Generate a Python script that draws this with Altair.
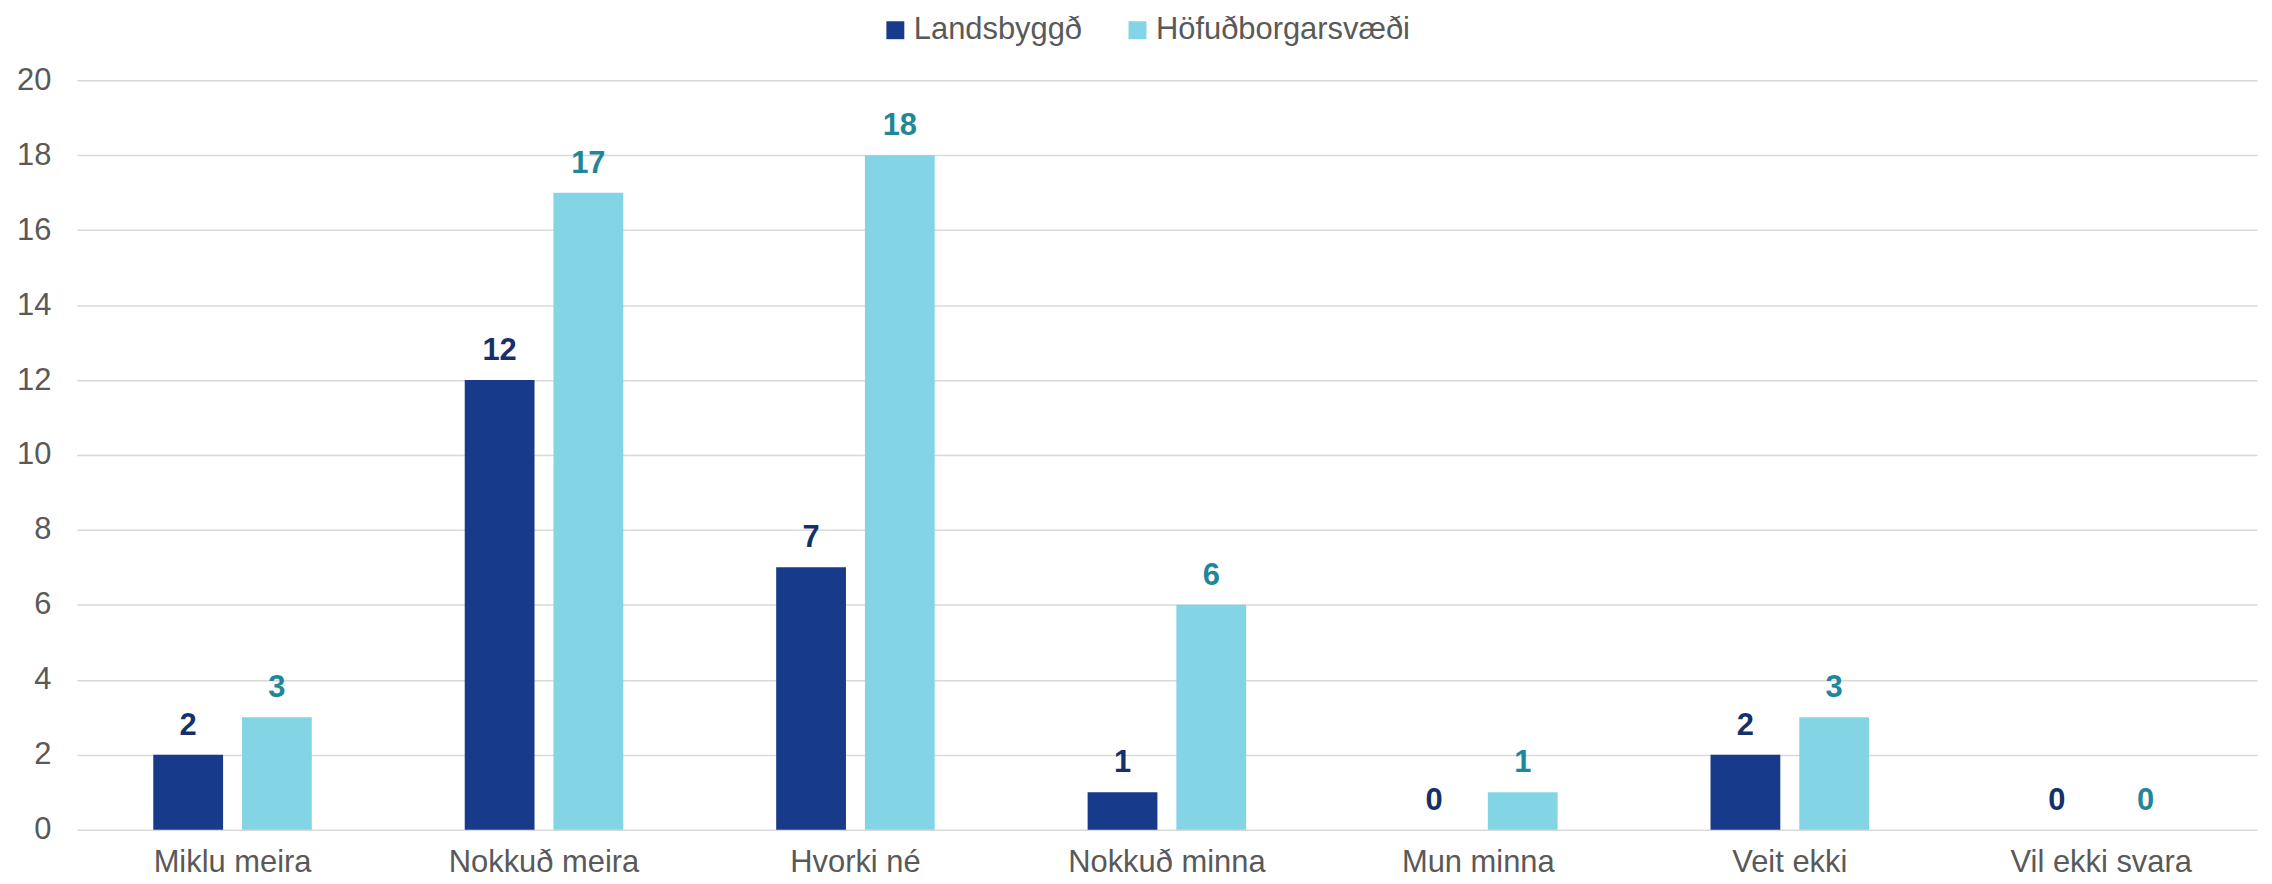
import altair as alt
import pandas as pd

categories = ["Miklu meira", "Nokkuð meira", "Hvorki né", "Nokkuð minna", "Mun minna", "Veit ekki", "Vil ekki svara"]
series = ["Landsbyggð", "Höfuðborgarsvæði"]
landsbyggd = [2, 12, 7, 1, 0, 2, 0]
hofudborg = [3, 17, 18, 6, 1, 3, 0]
y_ticks = [0, 2, 4, 6, 8, 10, 12, 14, 16, 18, 20]

bar_colors = ["#173a8a", "#83d5e6"]
label_colors = ["#16306c", "#1f8798"]

rows = []
for c, a, b in zip(categories, landsbyggd, hofudborg):
    rows.append({"cat": c, "series": series[0], "value": a})
    rows.append({"cat": c, "series": series[1], "value": b})
df = pd.DataFrame(rows)

FONT = "Liberation Sans"
GRAY = "#595959"

x = alt.X("cat:N", sort=categories, title=None,
          scale=alt.Scale(paddingInner=0.491, paddingOuter=0.2457),
          axis=alt.Axis(labelAngle=0, labelFontSize=31, labelColor=GRAY, labelFont=FONT,
                        labelPadding=18, labelLimit=0, domain=False, ticks=False, grid=False))
xoff = alt.XOffset("series:N", sort=series, scale=alt.Scale(paddingInner=0.2135))
y = alt.Y("value:Q", title=None,
          scale=alt.Scale(domain=[0, 20], nice=False),
          axis=alt.Axis(values=y_ticks, labelFontSize=31, labelColor=GRAY, labelFont=FONT,
                        labelPadding=26, domain=False, ticks=False, grid=True,
                        gridColor="#d9d9d9", gridWidth=1.5))

bars = alt.Chart(df).mark_bar().encode(
    x=x, xOffset=xoff, y=y,
    color=alt.Color("series:N", sort=series,
                    scale=alt.Scale(domain=series, range=bar_colors),
                    legend=alt.Legend(title=None, orient="none", direction="horizontal",
                                      legendX=806, legendY=-66,
                                      symbolType="square", symbolSize=324,
                                      symbolStrokeWidth=0,
                                      labelFontSize=31, labelColor=GRAY, labelFont=FONT,
                                      labelOffset=3, columnPadding=40, labelLimit=0)),
)

labels = alt.Chart(df).mark_text(dy=-20, baseline="alphabetic", fontWeight="bold",
                                 fontSize=31, font=FONT).encode(
    x=x, xOffset=xoff, y=y,
    text=alt.Text("value:Q"),
    color=alt.Color("series:N", sort=series,
                    scale=alt.Scale(domain=series, range=label_colors), legend=None),
)

chart = alt.layer(bars, labels).resolve_scale(color="independent").properties(
    width=2188, height=752,
    autosize=alt.AutoSizeParams(type="none"),
    padding={"left": 69, "top": 71, "right": 7, "bottom": 53},
).configure_view(stroke=None)

chart.save("out.html", embed_options={"renderer": "svg", "actions": False})
